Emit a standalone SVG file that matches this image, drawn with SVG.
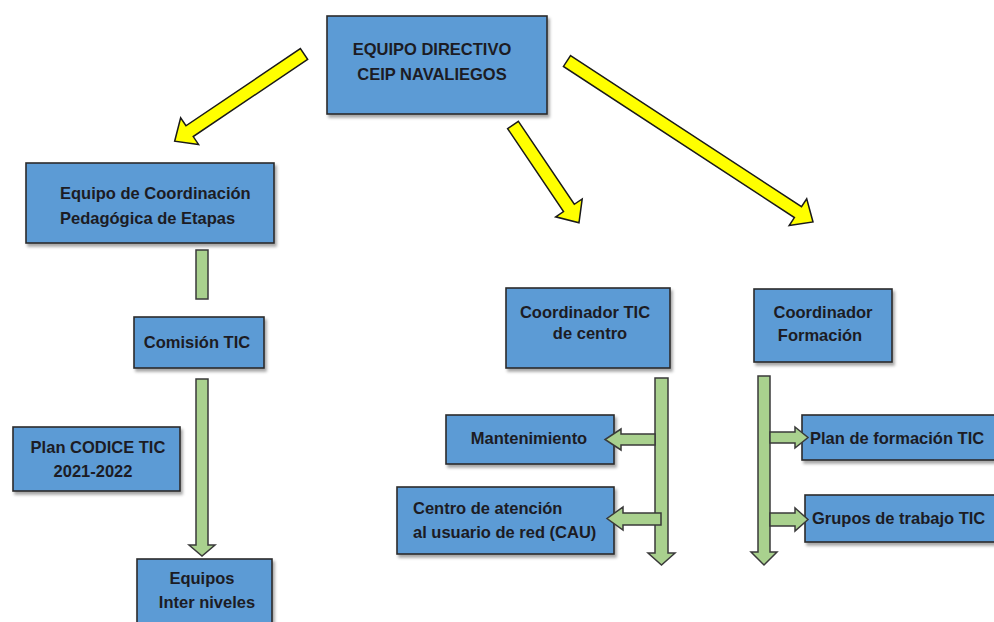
<svg xmlns="http://www.w3.org/2000/svg" width="994" height="622" viewBox="0 0 994 622">
<defs>
<filter id="sh" x="-10%" y="-10%" width="130%" height="140%">
<feDropShadow dx="2" dy="3" stdDeviation="1.5" flood-color="#000" flood-opacity="0.35"/>
</filter>
<style>
.box{fill:#5b9bd5;stroke:#2b2b2b;stroke-width:1.6;filter:url(#sh)}
.t{font-family:"Liberation Sans",Arial,sans-serif;font-weight:bold;font-size:16.5px;fill:#1c1c24}
.c{text-anchor:middle}
.y{fill:#ffff00;stroke:#1a1a1a;stroke-width:1.5;stroke-linejoin:miter}
.g{fill:#a9d18e;stroke:#3a3a3a;stroke-width:1.5;stroke-linejoin:miter}
</style>
</defs>
<rect width="994" height="622" fill="#ffffff"/>
<g id="equipo-directivo">
<rect class="box" x="327" y="16" width="220" height="98"/>
<text class="t c" x="432" y="55">EQUIPO DIRECTIVO</text>
<text class="t c" x="432" y="80">CEIP NAVALIEGOS</text>
</g>
<g id="coordinacion-pedagogica">
<rect class="box" x="26" y="163" width="248" height="80"/>
<text class="t" x="60" y="199">Equipo de Coordinación</text>
<text class="t" x="60" y="224">Pedagógica de Etapas</text>
</g>
<g id="comision-tic">
<rect class="box" x="134" y="317" width="130" height="51"/>
<text class="t c" x="197" y="348">Comisión TIC</text>
</g>
<g id="plan-codice">
<rect class="box" x="13" y="427" width="167" height="64"/>
<text class="t c" x="98" y="453">Plan CODICE TIC</text>
<text class="t c" x="93" y="477">2021-2022</text>
</g>
<g id="equipos-inter-niveles">
<rect class="box" x="137" y="559" width="135" height="80"/>
<text class="t c" x="202" y="584">Equipos</text>
<text class="t c" x="207" y="608">Inter niveles</text>
</g>
<g id="coordinador-tic">
<rect class="box" x="506" y="288" width="164" height="80"/>
<text class="t c" x="585" y="318">Coordinador TIC</text>
<text class="t c" x="590" y="339">de centro</text>
</g>
<g id="mantenimiento">
<rect class="box" x="446" y="415" width="168" height="49"/>
<text class="t c" x="529" y="444">Mantenimiento</text>
</g>
<g id="cau">
<rect class="box" x="397" y="487" width="217" height="67"/>
<text class="t" x="413" y="514">Centro de atención</text>
<text class="t" x="413" y="538">al usuario de red (CAU)</text>
</g>
<g id="coordinador-formacion">
<rect class="box" x="754" y="289" width="138" height="73"/>
<text class="t c" x="823" y="318">Coordinador</text>
<text class="t c" x="820" y="341">Formación</text>
</g>
<g id="plan-formacion">
<rect class="box" x="802" y="415" width="200" height="45"/>
<text class="t" x="810" y="444">Plan de formación TIC</text>
</g>
<g id="grupos-trabajo">
<rect class="box" x="805" y="495" width="200" height="47"/>
<text class="t" x="812" y="524">Grupos de trabajo TIC</text>
</g>
<g id="connectors">
<polygon class="y" transform="translate(304,54) rotate(146)" points="0,-6.5 138,-6.5 138,-16 156,0 138,16 138,6.5 0,6.5"/>
<polygon class="y" transform="translate(513,125) rotate(56)" points="0,-6.5 100,-6.5 100,-16 118,0 100,16 100,6.5 0,6.5"/>
<polygon class="y" transform="translate(567,61) rotate(33.2)" points="0,-6.5 276,-6.5 276,-16 294,0 276,16 276,6.5 0,6.5"/>
<rect class="g" x="196" y="250" width="12" height="49"/>
<polygon class="g" points="196,379 208,379 208,545 215,545 202,556 189,545 196,545"/>
<polygon class="g" points="655,378 668,378 668,553 675,553 661.5,565 648,553 655,553"/>
<polygon class="g" points="758,376 770,376 770,552 777,552 764,565 751,552 758,552"/>
<polygon class="g" points="655,434 621,434 621,429 605,439.5 621,450 621,445 655,445"/>
<polygon class="g" points="661,513 623,513 623,507 607,518.5 623,530 623,525 661,525"/>
<polygon class="g" points="770,432 795,432 795,427 808,437.5 795,448 795,443 770,443"/>
<polygon class="g" points="770,513 795,513 795,508 808,519.5 795,531 795,526 770,526"/>
</g>
</svg>
